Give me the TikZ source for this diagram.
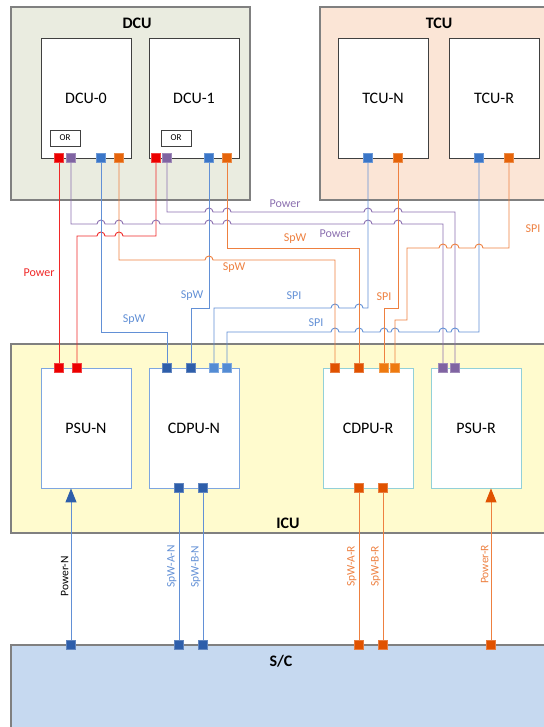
\documentclass[tikz,border=0pt]{standalone}
\usepackage{fontspec}
\setmainfont{Carlito}
\usepackage{tikz}
\usetikzlibrary{arrows.meta}
\definecolor{boxdcu}{RGB}{234,236,224}
\definecolor{boxtcu}{RGB}{251,229,214}
\definecolor{boxicu}{RGB}{255,251,206}
\definecolor{boxsc}{RGB}{198,217,240}
\definecolor{edgeblue}{RGB}{126,166,224}
\definecolor{edgecyan}{RGB}{146,208,216}
\definecolor{wirered}{RGB}{240,40,40}
\definecolor{wirepurple}{RGB}{140,112,176}
\definecolor{wireblue}{RGB}{98,144,214}
\definecolor{wireorange}{RGB}{238,128,64}
\definecolor{portred}{RGB}{236,0,0}
\definecolor{portpurple}{RGB}{128,100,162}
\definecolor{portblue}{RGB}{58,118,200}
\definecolor{portbluedk}{RGB}{46,94,170}
\definecolor{portbluelt}{RGB}{84,140,212}
\definecolor{portorange}{RGB}{230,100,10}
\definecolor{portorangedk}{RGB}{224,82,0}
\definecolor{portorangelt}{RGB}{238,122,16}

\begin{document}
\begin{tikzpicture}[
        x=1pt,y=-1pt,
        font=\fontsize{12}{14}\selectfont,
        grp/.style={draw=black!50,line width=1.2pt,inner sep=0pt},
        unit/.style={draw=black!75,fill=white,line width=0.8pt,minimum width=90pt,minimum height=120pt,inner sep=0pt,font=\fontsize{16}{19}\selectfont},
        title/.style={font=\fontsize{16}{19}\selectfont\bfseries},
        orbox/.style={draw=black!75,fill=white,line width=0.8pt,minimum width=30pt,minimum height=16pt,inner sep=0pt,font=\fontsize{9}{10}\selectfont},
        port/.style={fill=#1,draw=#1!75!white,line width=0.5pt,minimum size=9pt,inner sep=0pt},
        lab/.style={inner sep=1pt},
        vlab/.style={sloped,above=1pt,inner sep=1pt,font=\fontsize{11.5}{13}\selectfont},
        redlink/.style={draw=wirered,line width=0.9pt},
        purplelink/.style={draw=wirepurple,line width=0.9pt},
        bluelink/.style={draw=wireblue,line width=0.9pt},
        orangelink/.style={draw=wireorange,line width=0.9pt},
        hopr/.style={start angle=180,end angle=0,radius=4pt},
        hopl/.style={start angle=0,end angle=180,radius=4pt}
    ]
        \path[use as bounding box,fill=white] (0,0) rectangle (543,727);

        % group boxes
        \node[grp,fill=boxdcu,minimum width=239pt,minimum height=193pt] (dcu) at (130.5,103.5) {};
        \node[grp,fill=boxtcu,minimum width=230pt,minimum height=193pt] (tcu) at (435,103.5) {};
        \node[grp,fill=boxicu,minimum width=539pt,minimum height=189pt] (icu) at (280.5,438.5) {};
        \node[grp,fill=boxsc,minimum width=539pt,minimum height=100pt] (sc) at (280.5,695) {};
        \node[title] (dcut) at (137,23) {DCU};
        \node[title] (tcut) at (439,23) {TCU};
        \node[title] (icut) at (288,523) {ICU};
        \node[title] (sct) at (281,661) {S/C};

        % units
        \node[unit] (dcu0) at (86,98) {DCU-0};
        \node[unit] (dcu1) at (194,98) {DCU-1};
        \node[unit] (tcun) at (383,98) {TCU-N};
        \node[unit] (tcur) at (494,98) {TCU-R};
        \node[orbox] (or0) at (65,138) {OR};
        \node[orbox] (or1) at (176,138) {OR};

        \node[unit,draw=edgeblue] (psun) at (86,428) {PSU-N};
        \node[unit,draw=edgeblue] (cdpun) at (194,428) {CDPU-N};
        \node[unit,draw=edgecyan] (cdpur) at (368,428) {CDPU-R};
        \node[unit,draw=edgecyan] (psur) at (476,428) {PSU-R};

        % ports
        \node[port=portred] (d0r) at (59,158) {};
        \node[port=portpurple] (d0p) at (71,158) {};
        \node[port=portblue] (d0b) at (101,158) {};
        \node[port=portorange] (d0o) at (119,158) {};
        \node[port=portred] (d1r) at (156,158) {};
        \node[port=portpurple] (d1p) at (167,158) {};
        \node[port=portblue] (d1b) at (209,158) {};
        \node[port=portorange] (d1o) at (227,158) {};
        \node[port=portblue] (tnb) at (368,158) {};
        \node[port=portorange] (tno) at (398,158) {};
        \node[port=portblue] (trb) at (479,158) {};
        \node[port=portorange] (tro) at (509,158) {};

        \node[port=portred] (pn1) at (59,368) {};
        \node[port=portred] (pn2) at (77,368) {};
        \node[port=portbluedk] (cn1) at (167,368) {};
        \node[port=portbluedk] (cn2) at (191,368) {};
        \node[port=portbluelt] (cn3) at (214,368) {};
        \node[port=portbluelt] (cn4) at (227,368) {};
        \node[port=portorangedk] (cr1) at (335,368) {};
        \node[port=portorangedk] (cr2) at (359,368) {};
        \node[port=portorangelt] (cr3) at (384,368) {};
        \node[port=portorangelt] (cr4) at (395,368) {};
        \node[port=portpurple] (pr1) at (443,368) {};
        \node[port=portpurple] (pr2) at (455,368) {};

        \node[port=portbluedk] (cna) at (179,488) {};
        \node[port=portbluedk] (cnb) at (203,488) {};
        \node[port=portorangedk] (cra) at (359,488) {};
        \node[port=portorangedk] (crb) at (383,488) {};

        \node[port=portbluedk] (spn) at (71,645) {};
        \node[port=portbluedk] (san) at (179,645) {};
        \node[port=portbluedk] (sbn) at (203,645) {};
        \node[port=portorangedk] (sar) at (359,645) {};
        \node[port=portorangedk] (sbr) at (383,645) {};
        \node[port=portorangedk] (spr) at (491,645) {};

        % power wires
        \draw[redlink] (d0r) -- (pn1);
        \draw[redlink] (d1r) |- (123,236) arc[hopl] -- (105,236) arc[hopl] -| (pn2);
        \draw[purplelink] (d0p) |- (97,224) arc[hopr] -- (115,224) arc[hopr] -- (152,224) arc[hopr] -- (205,224) arc[hopr] -- (223,224) arc[hopr] -- (364,224) arc[hopr] -- (394,224) arc[hopr] -| (pr1);
        \draw[purplelink] (d1p) |- (205,212) arc[hopr] -- (223,212) arc[hopr] -- (364,212) arc[hopr] -- (394,212) arc[hopr] -| (pr2);

        % SpW and SPI wires
        \draw[bluelink] (d0b) |- (167,332) -- (cn1);
        \draw[bluelink] (d1b) |- (191,308) -- (cn2);
        \draw[bluelink] (tnb) |- (363,308) arc[hopl] -- (339,308) arc[hopl] -| (cn3);
        \draw[bluelink] (trb) |- (459,332) arc[hopl] -- (447,332) arc[hopl] -- (399,332) arc[hopl] -- (388,332) arc[hopl] -- (363,332) arc[hopl] -- (339,332) arc[hopl] -| (cn4);
        \draw[orangelink] (d0o) |- (205,260) arc[hopr] -| (cr1);
        \draw[orangelink] (d1o) |- (359,248) -- (cr2);
        \draw[orangelink] (tno) |- (384,308) -- (cr3);
        \draw[orangelink] (tro) |- (483,248) arc[hopl] -- (459,248) arc[hopl] -- (447,248) arc[hopl] -- (407,248) -- (407,320) -| (cr4);

        % S/C links
        \draw[bluelink,-{Triangle[length=14pt,width=11pt,color=portbluedk]}] (spn) -- node[vlab,pos=0.42,text=black] {Power-N} (spn |- psun.south);
        \draw[bluelink] (san) -- node[vlab,text=wireblue] {SpW-A-N} (cna);
        \draw[bluelink] (sbn) -- node[vlab,text=wireblue] {SpW-B-N} (cnb);
        \draw[orangelink] (sar) -- node[vlab,text=wireorange] {SpW-A-R} (cra);
        \draw[orangelink] (sbr) -- node[vlab,text=wireorange] {SpW-B-R} (crb);
        \draw[orangelink,-{Triangle[length=14pt,width=11pt,color=portorangedk]}] (spr) -- node[vlab,text=wireorange] {Power-R} (spr |- psur.south);

        % wire labels
        \node[lab,text=wirered] (lpw0) at (39,273) {Power};
        \node[lab,text=wirepurple] (lpw1) at (285,204) {Power};
        \node[lab,text=wirepurple] (lpw2) at (335,234) {Power};
        \node[lab,text=wireorange] (lspw0) at (234,268) {SpW};
        \node[lab,text=wireorange] (lspw1) at (295,239) {SpW};
        \node[lab,text=wireblue] (lspw2) at (134,320) {SpW};
        \node[lab,text=wireblue] (lspw3) at (192,296) {SpW};
        \node[lab,text=wireblue] (lspi0) at (294,296) {SPI};
        \node[lab,text=wireblue] (lspi1) at (316,323) {SPI};
        \node[lab,text=wireorange] (lspi2) at (384,297) {SPI};
        \node[lab,text=wireorange] (lspi3) at (533,229) {SPI};
    \end{tikzpicture}
\end{document}
